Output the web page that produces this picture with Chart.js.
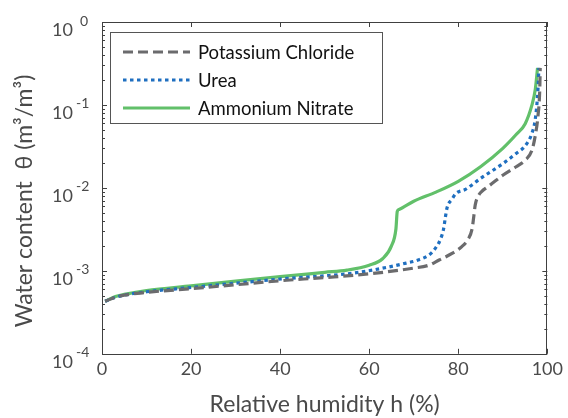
<!DOCTYPE html>
<html><head><meta charset="utf-8">
<script src="https://cdn.jsdelivr.net/npm/chart.js@4.4.0/dist/chart.umd.min.js"></script>
<style>html,body{margin:0;padding:0;background:#fff;}#wrap{width:568px;height:418px;}</style>
</head><body><div id="wrap"><canvas id="c" width="568" height="418"></canvas></div>
<script>
// Relative humidity (%) and water content (m3/m3)
const kclH = [0.7, 3, 5, 10, 20, 30, 40, 50, 60, 70, 73.4, 75.7, 78.6, 80.8, 82.2, 83.1, 83.5, 83.8, 84.5, 85.3, 86.3, 87.5, 90, 93, 95, 96.5, 97.3, 97.9, 98.3, 98.4];
const kclV = [4.3e-4, 4.8e-4, 5.1e-4, 5.5e-4, 6.1e-4, 6.8e-4, 7.6e-4, 8.3e-4, 9.2e-4, 1.08e-3, 1.17e-3, 1.35e-3, 1.62e-3, 1.96e-3, 2.4e-3, 3.2e-3, 4.6e-3, 6.2e-3, 8.0e-3, 9.1e-3, 1.0e-2, 0.0112, 0.0142, 0.018, 0.0215, 0.028, 0.043, 0.074, 0.156, 0.28];
const ureaH = [0.7, 3, 5, 10, 20, 30, 41.7, 50, 56.5, 63.9, 68.3, 71, 73.4, 74.8, 76, 76.7, 77.1, 77.5, 78.6, 79.4, 81.6, 85, 90, 93, 95, 96.5, 97.3, 97.9, 98.1];
const ureaV = [4.3e-4, 4.8e-4, 5.1e-4, 5.6e-4, 6.3e-4, 7.1e-4, 8.1e-4, 8.7e-4, 9.4e-4, 1.1e-3, 1.24e-3, 1.35e-3, 1.55e-3, 1.85e-3, 2.4e-3, 3.2e-3, 4.4e-3, 5.8e-3, 7.3e-3, 8.5e-3, 9.6e-3, 0.013, 0.0196, 0.026, 0.032, 0.045, 0.068, 0.156, 0.28];
const anH = [0.7, 3, 5, 10, 20, 30, 40, 50, 55, 60, 63, 65, 66, 66.3, 66.7, 70, 75, 80, 85, 90, 93, 95, 96.5, 97.3, 97.8];
const anV = [4.3e-4, 4.9e-4, 5.2e-4, 5.8e-4, 6.6e-4, 7.5e-4, 8.5e-4, 9.6e-4, 1.02e-3, 1.17e-3, 1.4e-3, 2.0e-3, 3.2e-3, 5.2e-3, 5.5e-3, 6.9e-3, 8.9e-3, 1.2e-2, 0.018, 0.030, 0.044, 0.059, 0.098, 0.155, 0.28];
const seriesNames = ['Potassium Chloride', 'Urea', 'Ammonium Nitrate'];
const xTicks = [0, 20, 40, 60, 80, 100];
const yExps = [0, -1, -2, -3, -4];

const TXT = '#4a4a4a';
const FONT = 'Lato, "Open Sans", sans-serif';
const pts = (h, v) => h.map((x, i) => ({x: x, y: v[i]}));

const styles = [
  {color: '#6b6b6d', dash: [10, 5]},
  {color: '#1f6fc0', dash: [3.5, 3.5]},
  {color: '#62c06a', dash: []}
];

const deco = {
  id: 'deco',
  afterDraw(chart) {
    const ctx = chart.ctx, a = chart.chartArea, xs = chart.scales.x, ys = chart.scales.y;
    ctx.save();
    ctx.strokeStyle = '#404040';
    ctx.lineWidth = 1;
    ctx.setLineDash([]);
    // frame
    ctx.strokeRect(Math.round(a.left) + 0.5, Math.round(a.top) + 0.5, Math.round(a.right - a.left) - 1, Math.round(a.bottom - a.top));
    // x ticks (inside, bottom and top)
    ctx.beginPath();
    xTicks.forEach(t => {
      const px = Math.round(xs.getPixelForValue(t)) + 0.5;
      ctx.moveTo(px, a.bottom); ctx.lineTo(px, a.bottom - 5);
      ctx.moveTo(px, a.top); ctx.lineTo(px, a.top + 5);
    });
    // y ticks major & minor
    for (let e = -4; e <= 0; e++) {
      for (let m = 1; m <= 9; m++) {
        const v = m * Math.pow(10, e);
        if (v > 1.0000001) break;
        const py = Math.round(ys.getPixelForValue(v)) + 0.5;
        const len = m === 1 ? 5 : 3;
        ctx.moveTo(a.left, py); ctx.lineTo(a.left + len, py);
        ctx.moveTo(a.right, py); ctx.lineTo(a.right - len, py);
      }
    }
    ctx.stroke();
    // y tick labels with superscripts
    ctx.fillStyle = TXT;
    ctx.textBaseline = 'middle';
    ctx.textAlign = 'left';
    yExps.forEach(e => {
      const py = ys.getPixelForValue(Math.pow(10, e));
      ctx.font = '18px ' + FONT;
      ctx.fillText('10', 52, py + 8);
      ctx.font = '14px ' + FONT;
      const es = String(e);
      ctx.fillText(es, e === 0 ? 80 : 76, py - 1);
    });
    // y title
    ctx.save();
    ctx.translate(25, 201);
    ctx.rotate(-Math.PI / 2);
    ctx.textAlign = 'center';
    ctx.font = '23px ' + FONT;
    ctx.fillText('Water content  \u03b8 (m\u00b3/m\u00b3)', 0, 0);
    ctx.restore();
    // legend
    const L = {x: 110, y: 32, w: 272, h: 91};
    ctx.fillStyle = '#fff';
    ctx.fillRect(L.x, L.y, L.w, L.h);
    ctx.strokeStyle = '#555';
    ctx.lineWidth = 1;
    ctx.strokeRect(L.x + 0.5, L.y + 0.5, L.w, L.h);
    const rows = [52, 80, 108];
    chart.data.datasets.forEach((ds, i) => {
      ctx.beginPath();
      ctx.strokeStyle = ds.borderColor;
      ctx.lineWidth = ds.borderWidth;
      ctx.setLineDash(ds.borderDash || []);
      ctx.moveTo(123, rows[i]); ctx.lineTo(190, rows[i]);
      ctx.stroke();
      ctx.setLineDash([]);
      ctx.fillStyle = '#111';
      ctx.font = '18.5px ' + FONT;
      ctx.textAlign = 'left';
      ctx.fillText(ds.label, 198, rows[i] + 1);
    });
    ctx.restore();
  }
};

new Chart(document.getElementById('c'), {
  type: 'line',
  data: {
    datasets: [
      {label: seriesNames[0], data: pts(kclH, kclV)},
      {label: seriesNames[1], data: pts(ureaH, ureaV)},
      {label: seriesNames[2], data: pts(anH, anV)}
    ].map((d, i) => Object.assign(d, {
      borderColor: styles[i].color, borderDash: styles[i].dash, borderWidth: 3.2,
      pointRadius: 0, fill: false, cubicInterpolationMode: 'monotone'
    }))
  },
  plugins: [deco],
  options: {
    responsive: false, animation: false,
    layout: {padding: {left: 102, right: 15, top: 22, bottom: 0}},
    plugins: {legend: {display: false}, tooltip: {enabled: false}},
    scales: {
      x: {
        type: 'linear', min: 0, max: 100,
        afterBuildTicks: s => { s.ticks = xTicks.map(v => ({value: v})); },
        ticks: {font: {size: 18, family: FONT}, color: TXT, padding: 5, maxRotation: 0},
        grid: {display: false, drawTicks: false},
        border: {display: false},
        title: {display: true, text: 'Relative humidity h (%)', font: {size: 23, family: FONT}, color: TXT, padding: {top: 5, bottom: 0}}
      },
      y: {
        type: 'logarithmic', min: 1e-4, max: 1,
        ticks: {display: false},
        grid: {display: false, drawTicks: false},
        border: {display: false}
      }
    }
  }
});
</script></body></html>
